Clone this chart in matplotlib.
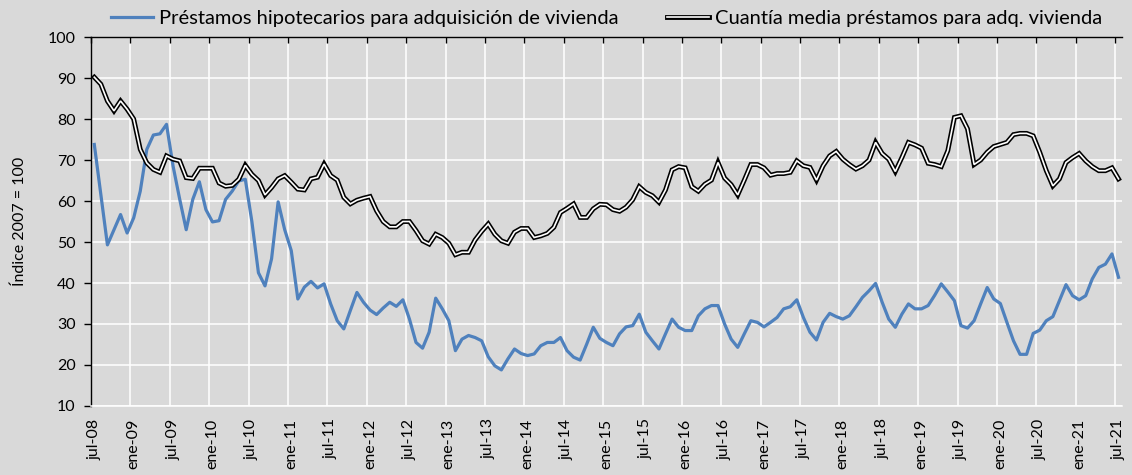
import numpy as np
import matplotlib
matplotlib.use('Agg')
import matplotlib.pyplot as plt
from matplotlib.lines import Line2D

# monthly series, jul-08 .. jul-21 (index 2007 = 100)
prestamos = [
    73.8, 61.5, 49.3, 53.0, 56.7, 52.2, 55.9, 62.4, 72.6, 76.1, 76.4, 78.7,
    68.5, 60.5, 53.0, 60.4, 64.7, 57.9, 54.9, 55.2, 60.4, 62.4, 64.9, 65.3,
    55.0, 42.5, 39.3, 45.9, 59.8, 53.0, 47.9, 36.1, 39.0, 40.4, 38.8, 39.8,
    34.9, 30.8, 28.8, 33.3, 37.7, 35.3, 33.4, 32.3, 33.9, 35.3, 34.3, 35.9,
    31.2, 25.5, 24.1, 28.0, 36.3, 33.7, 30.8, 23.5, 26.3, 27.2, 26.7, 25.9,
    22.0, 19.8, 18.8, 21.5, 23.9, 22.8, 22.3, 22.7, 24.7, 25.5, 25.5, 26.7,
    23.5, 21.9, 21.2, 25.1, 29.2, 26.5, 25.5, 24.7, 27.6, 29.3, 29.6, 32.4,
    28.0, 25.9, 23.9, 27.6, 31.2, 29.2, 28.4, 28.4, 32.0, 33.7, 34.5, 34.5,
    30.0, 26.3, 24.3, 27.6, 30.8, 30.4, 29.3, 30.4, 31.6, 33.7, 34.2, 35.9,
    31.6, 28.0, 26.1, 30.4, 32.6, 31.8, 31.2, 32.0, 34.2, 36.5, 38.1, 39.9,
    35.3, 31.2, 29.2, 32.4, 34.9, 33.7, 33.7, 34.5, 37.0, 39.8, 37.8, 35.7,
    29.6, 29.0, 30.8, 34.9, 38.9, 36.1, 35.0, 30.4, 25.9, 22.6, 22.6, 27.7,
    28.5, 30.8, 31.8, 35.7, 39.6, 36.9, 35.9, 36.9, 41.0, 43.8, 44.6, 47.1,
    41.4,
]

cuantia = [
    90.2, 88.5, 84.4, 82.0, 84.4, 82.4, 80.0, 72.6, 69.3, 67.7, 67.0, 71.0,
    70.2, 69.8, 65.7, 65.5, 68.0, 68.0, 68.0, 64.4, 63.6, 63.8, 65.3, 68.7,
    66.5, 65.0, 61.5, 63.3, 65.4, 66.2, 64.6, 62.9, 62.7, 65.4, 65.8, 69.0,
    66.2, 65.1, 60.9, 59.3, 60.2, 60.7, 61.1, 57.6, 55.0, 53.7, 53.7, 55.0,
    55.0, 52.8, 50.3, 49.5, 51.9, 51.1, 49.7, 46.9, 47.5, 47.5, 50.5, 52.6,
    54.4, 51.9, 50.3, 49.7, 52.4, 53.3, 53.3, 51.1, 51.5, 52.1, 53.6, 57.2,
    58.2, 59.3, 56.0, 56.0, 58.1, 59.2, 59.1, 57.9, 57.5, 58.5, 60.3, 63.5,
    62.1, 61.3, 59.7, 62.7, 67.6, 68.4, 68.1, 63.5, 62.4, 64.1, 65.1, 69.4,
    65.6, 64.0, 61.5, 65.1, 68.9, 68.9, 68.1, 66.3, 66.7, 66.7, 67.0, 69.8,
    68.6, 68.2, 65.1, 68.6, 71.0, 72.1, 70.2, 68.9, 67.8, 68.6, 70.0, 74.3,
    71.6, 70.2, 67.2, 70.6, 74.3, 73.7, 72.9, 69.2, 68.9, 68.4, 72.3, 80.4,
    80.8, 77.6, 68.9, 70.0, 71.9, 73.3, 73.8, 74.3, 76.2, 76.5, 76.5, 75.9,
    71.9, 67.4, 63.7, 65.4, 69.4, 70.6, 71.6, 69.8, 68.4, 67.4, 67.4, 68.1,
    65.4,
]

tick_labels = [
    'jul-08', 'ene-09', 'jul-09', 'ene-10', 'jul-10', 'ene-11', 'jul-11',
    'ene-12', 'jul-12', 'ene-13', 'jul-13', 'ene-14', 'jul-14', 'ene-15',
    'jul-15', 'ene-16', 'jul-16', 'ene-17', 'jul-17', 'ene-18', 'jul-18',
    'ene-19', 'jul-19', 'ene-20', 'jul-20', 'ene-21', 'jul-21',
]

series_names = ['Préstamos hipotecarios para adquisición de vivienda',
                'Cuantía media préstamos para adq. vivienda']

BG = '#D9D9D9'
BLUE = '#4F81BD'

plt.rcParams['font.family'] = ['Lato', 'DejaVu Sans']

x = np.arange(len(prestamos))

fig = plt.figure(figsize=(11.32, 4.75), dpi=100, facecolor=BG)
ax = fig.add_axes([0.0804, 0.1453, 0.9106, 0.7767])
ax.set_facecolor(BG)

ax.plot(x, prestamos, color=BLUE, lw=2.3, solid_joinstyle='round', zorder=3)
# double line: black outline with white core
ax.plot(x, cuantia, color='black', lw=3.5, solid_joinstyle='miter', zorder=4)
ax.plot(x, cuantia, color='white', lw=1.2, solid_joinstyle='miter', zorder=5)

ax.set_ylim(10, 100)
ax.set_yticks(range(10, 101, 10))
ax.set_xlim(-0.5, len(x) - 0.5)
ax.set_xticks(x[::6])
ax.set_xticklabels(tick_labels, rotation=90)
ax.set_xticks(np.arange(-0.5, len(x), 6), minor=True)

ax.grid(axis='y', which='major', color='white', lw=1.1, zorder=1)
ax.grid(axis='x', which='minor', color='white', lw=1.1, zorder=1)
ax.set_axisbelow(True)

ax.tick_params(axis='x', which='major', length=0, pad=9, labelsize=11.5)
ax.tick_params(axis='x', which='minor', bottom=False, top=True,
               direction='in', length=4, width=1)
ax.tick_params(axis='y', direction='out', length=5, width=1, labelsize=11.5, pad=6)

ax.spines['right'].set_visible(False)
ax.spines['bottom'].set_color('white')
ax.spines['bottom'].set_linewidth(1.1)
ax.spines['left'].set_linewidth(1)
ax.spines['top'].set_linewidth(1)

ax.set_ylabel('Índice 2007 = 100', fontsize=11.5)
ax.yaxis.set_label_coords(-0.062, 0.5)

h1 = Line2D([], [], color=BLUE, lw=2.3)
h2 = (Line2D([], [], color='black', lw=3.5), Line2D([], [], color='white', lw=1.2))
ax.legend([h1, h2], series_names, ncol=2, loc='lower center',
          bbox_to_anchor=(0.5, 1.0), frameon=False, fontsize=14.5,
          handlelength=2.1, columnspacing=2.4, handletextpad=0.3,
          borderaxespad=0.1)

fig.savefig('out.png', dpi=100, facecolor=BG)
